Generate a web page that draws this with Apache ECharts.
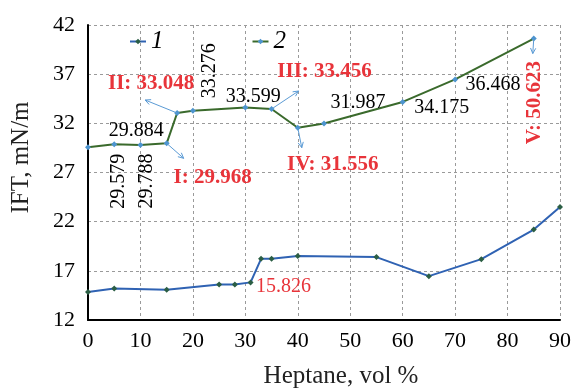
<!DOCTYPE html>
<html>
<head>
<meta charset="utf-8">
<script src="https://cdn.jsdelivr.net/npm/echarts@6/dist/echarts.min.js"></script>
<style>
  html, body { margin: 0; padding: 0; background: #fff; }
  #chart { width: 579px; height: 389px; }
</style>
</head>
<body>
<div id="chart"></div>
<script>
// Heptane content (vol %) for each series
const heptane1 = [0, 5, 15, 25, 28, 31, 33, 35, 40, 55, 65, 75, 85, 90];
const heptane2 = [0, 5, 10, 15, 17, 20, 30, 35, 40, 45, 60, 70, 85];

// Interfacial tension, mN/m
const ift1 = [14.84, 15.2, 15.07, 15.61, 15.6, 15.826, 18.22, 18.22, 18.52, 18.4, 16.46, 18.19, 21.2, 23.5];
const ift2 = [29.579, 29.884, 29.788, 29.968, 33.048, 33.276, 33.599, 33.456, 31.556, 31.987, 34.175, 36.468, 40.623];

// Axis ticks
const xTicks = [0, 10, 20, 30, 40, 50, 60, 70, 80, 90];
const yTicks = [12, 17, 22, 27, 32, 37, 42];

const seriesNames = ['1', '2'];

// Value callouts on curve 2: [index into series 2, text]
const plainLabels2 = [
  [0, '29.579'], [1, '29.884'], [2, '29.788'], [5, '33.276'],
  [6, '33.599'], [9, '31.987'], [10, '34.175'], [11, '36.468']
];
const keyLabels2 = [
  [3, 'I: 29.968'], [4, 'II: 33.048'], [7, 'III: 33.456'],
  [8, 'IV: 31.556'], [12, 'V: 50.623']
];
// Callout on curve 1: [index into series 1, text]
const keyLabels1 = [[5, '15.826']];

// Layout of the callouts (screen pixel offsets from the point, rotation)
const labelLayout = {
  '29.579': { off: [31, 34], rot: 90 },
  '29.884': { off: [22, -13], rot: 0 },
  '29.788': { off: [6, 36], rot: 90 },
  '33.276': { off: [17, -40], rot: 90 },
  '33.599': { off: [8, -11], rot: 0 },
  '31.987': { off: [34, -21], rot: 0 },
  '34.175': { off: [39, 6], rot: 0 },
  '36.468': { off: [38, 5], rot: 0 },
  'I: 29.968': { off: [46, 34], rot: 0 },
  'II: 33.048': { off: [-26, -29], rot: 0 },
  'III: 33.456': { off: [53, -37], rot: 0 },
  'IV: 31.556': { off: [35, 37], rot: 0 },
  'V: 50.623': { off: [1, 64], rot: 90 },
  '15.826': { off: [33, 4], rot: 0 }
};
// Arrow vectors (screen pixels) pointing from the marked points to their labels
const arrowVector = {
  'I: 29.968': [17, 15],
  'II: 33.048': [-32, -13],
  'III: 33.456': [27, -18],
  'IV: 31.556': [4, 20],
  'V: 50.623': [-1, 15]
};

const serif = '"Liberation Serif", "Times New Roman", serif';
const red = '#e8343a';
const arrowColor = '#5b9bd5';

function pairs(xs, ys) { return xs.map((x, i) => [x, ys[i]]); }

function calloutPoint(xs, ys, idx, text, bold, color) {
  const lay = labelLayout[text];
  // label offsets are applied in the rotated frame of the text
  const off = lay.rot === 90 ? [-lay.off[1], lay.off[0]] : lay.off;
  return {
    coord: [xs[idx], ys[idx]],
    symbolSize: 0,
    label: {
      show: true,
      formatter: text,
      position: 'inside',
      align: 'center',
      verticalAlign: 'middle',
      offset: off,
      rotate: lay.rot,
      color: color,
      fontFamily: serif,
      fontSize: bold ? 21 : 20,
      fontWeight: bold ? 'bold' : 'normal'
    }
  };
}

const marks2 = plainLabels2.map(([i, t]) => calloutPoint(heptane2, ift2, i, t, false, '#000'))
  .concat(keyLabels2.map(([i, t]) => calloutPoint(heptane2, ift2, i, t, true, red)));
const marks1 = keyLabels1.map(([i, t]) => calloutPoint(heptane1, ift1, i, t, false, red));

const chart = echarts.init(document.getElementById('chart'), null, { renderer: 'canvas' });

chart.setOption({
  animation: false,
  backgroundColor: '#fff',
  grid: { left: 88, right: 19, top: 25, bottom: 69, containLabel: false, outerBoundsMode: 'none' },
  legend: {
    data: seriesNames,
    left: 124,
    top: 24,
    itemWidth: 16,
    itemHeight: 7,
    itemGap: 88,
    textStyle: { fontFamily: serif, fontStyle: 'italic', fontSize: 25, color: '#000' }
  },
  xAxis: {
    type: 'value',
    min: xTicks[0],
    max: xTicks[xTicks.length - 1],
    interval: xTicks[1] - xTicks[0],
    name: 'Heptane, vol %',
    nameLocation: 'middle',
    nameGap: 44,
    nameTextStyle: { fontFamily: serif, fontSize: 25, color: '#222', padding: [0, 0, 0, 34] },
    axisLine: { show: true, lineStyle: { color: '#000', width: 2 } },
    axisTick: { show: false },
    axisLabel: { fontFamily: serif, fontSize: 22, color: '#000', margin: 10 },
    splitLine: { show: true, lineStyle: { color: '#9a9a9a', type: [3, 3], width: 1 } }
  },
  yAxis: {
    type: 'value',
    min: yTicks[0],
    max: yTicks[yTicks.length - 1],
    interval: yTicks[1] - yTicks[0],
    name: 'IFT, mN/m',
    nameLocation: 'middle',
    nameGap: 54,
    nameTextStyle: { fontFamily: serif, fontSize: 25, color: '#222', padding: [0, 0, 0, 30] },
    axisLine: { show: true, lineStyle: { color: '#000', width: 2 } },
    axisTick: { show: false },
    axisLabel: { fontFamily: serif, fontSize: 22, color: '#000', margin: 13 },
    splitLine: { show: true, lineStyle: { color: '#9a9a9a', type: [3, 3], width: 1 } }
  },
  series: [
    {
      name: seriesNames[0],
      type: 'line',
      data: pairs(heptane1, ift1),
      symbol: 'diamond',
      symbolSize: 6,
      lineStyle: { color: '#2f62b3', width: 2 },
      itemStyle: { color: '#2b5e44' },
      z: 3,
      markPoint: { symbol: 'circle', symbolSize: 0, data: marks1, silent: true }
    },
    {
      name: seriesNames[1],
      type: 'line',
      data: pairs(heptane2, ift2),
      symbol: 'diamond',
      symbolSize: 6,
      lineStyle: { color: '#3a6a2c', width: 2 },
      itemStyle: { color: '#4d94cf' },
      z: 3,
      markPoint: { symbol: 'circle', symbolSize: 0, data: marks2, silent: true }
    }
  ]
});

// Callout arrows with open heads, anchored at the marked points of curve 2
const arrowShapes = [];
keyLabels2.forEach(([i, t]) => {
  const p0 = chart.convertToPixel({ gridIndex: 0 }, [heptane2[i], ift2[i]]);
  const v = arrowVector[t];
  const p1 = [p0[0] + v[0], p0[1] + v[1]];
  const len = Math.hypot(v[0], v[1]);
  const ux = v[0] / len, uy = v[1] / len;
  const head = 6, spread = 0.45;
  const c = Math.cos(spread), s = Math.sin(spread);
  const b1 = [p1[0] - head * (ux * c - uy * s), p1[1] - head * (uy * c + ux * s)];
  const b2 = [p1[0] - head * (ux * c + uy * s), p1[1] - head * (uy * c - ux * s)];
  arrowShapes.push({
    type: 'line', silent: true, z: 10,
    shape: { x1: p0[0], y1: p0[1], x2: p1[0], y2: p1[1] },
    style: { stroke: arrowColor, lineWidth: 1 }
  });
  arrowShapes.push({
    type: 'polyline', silent: true, z: 10,
    shape: { points: [b1, p1, b2] },
    style: { stroke: arrowColor, lineWidth: 1, fill: null }
  });
});
chart.setOption({ graphic: arrowShapes });
</script>
</body>
</html>
